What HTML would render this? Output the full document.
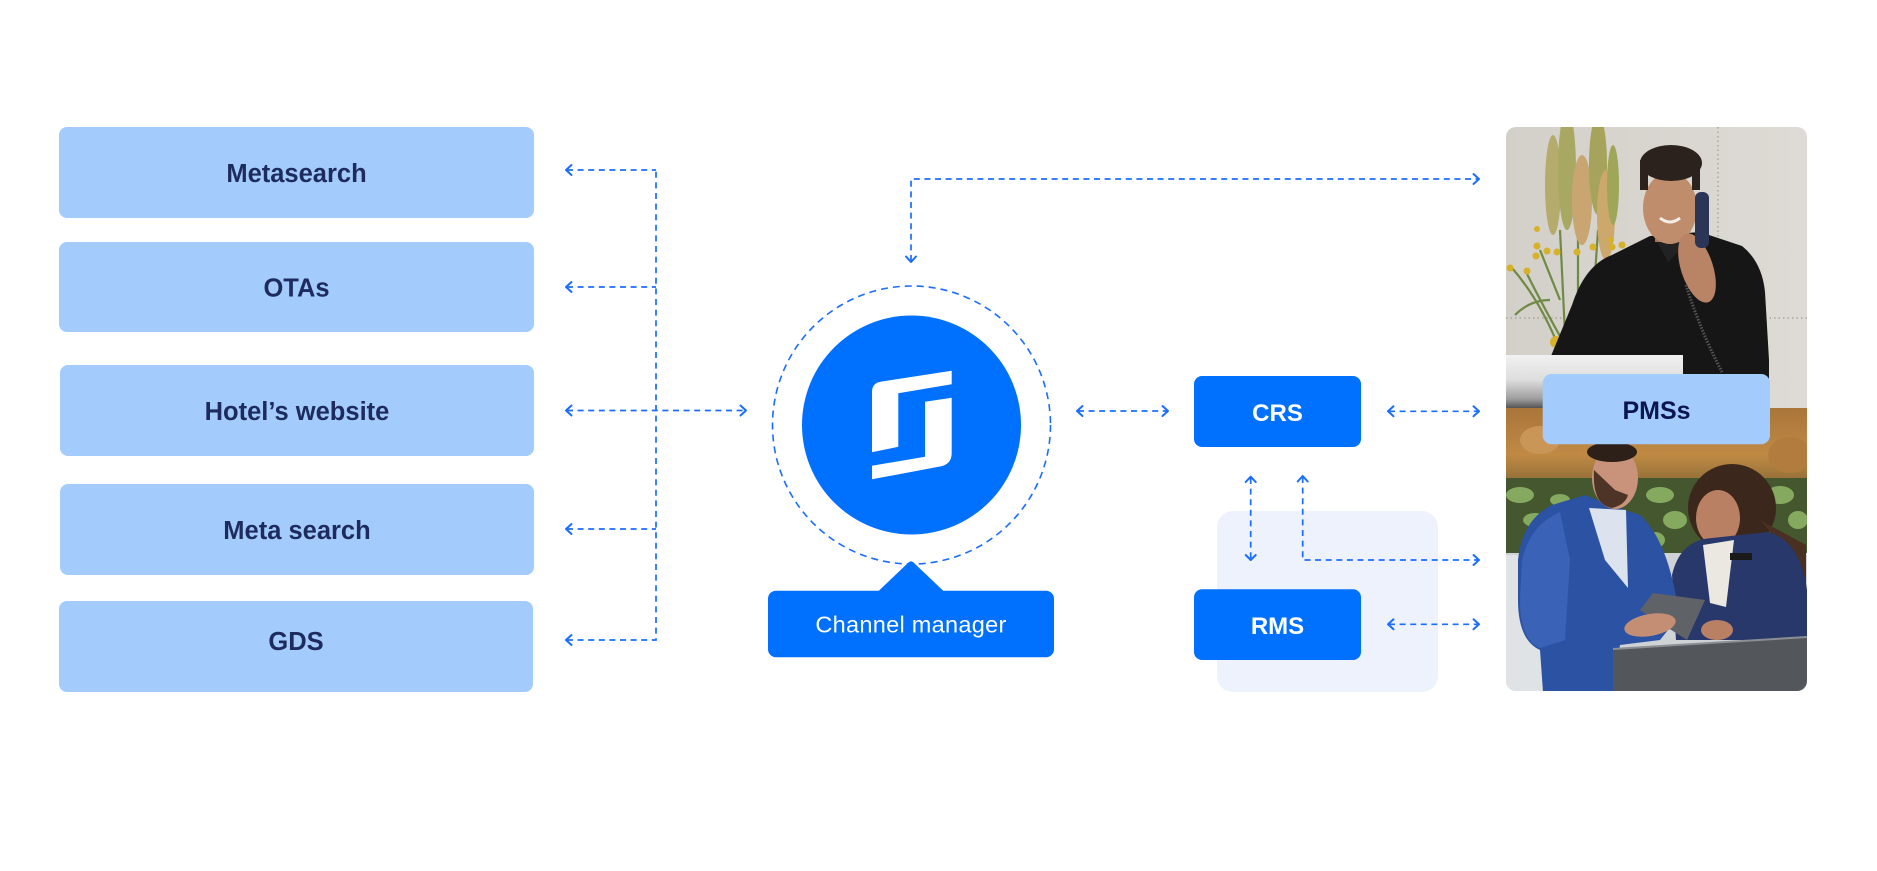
<!DOCTYPE html>
<html>
<head>
<meta charset="utf-8">
<style>
  html,body{margin:0;padding:0;background:#ffffff;}
  body{width:1877px;height:871px;overflow:hidden;}
  svg{display:block;}
  .lbl{font-family:"Liberation Sans",Arial,sans-serif;font-weight:700;font-size:25.5px;fill:#1e2b5e;text-anchor:middle;}
  .wl{font-family:"Liberation Sans",Arial,sans-serif;font-weight:700;font-size:24px;fill:#ffffff;text-anchor:middle;}
  .dl{fill:none;stroke:#1a6dff;stroke-width:1.7;stroke-dasharray:6 4.6;}
  .ah{fill:none;stroke:#1a6dff;stroke-width:2;stroke-linecap:round;stroke-linejoin:round;}
</style>
</head>
<body>
<svg width="1877" height="871" viewBox="0 0 1877 871" xmlns="http://www.w3.org/2000/svg">
  <defs>
    <clipPath id="photoClip">
      <rect x="1506" y="127" width="301" height="564" rx="10" ry="10"/>
    </clipPath>
    <linearGradient id="wallG" x1="0" y1="0" x2="1" y2="0">
      <stop offset="0" stop-color="#d3cfc9"/>
      <stop offset="1" stop-color="#dedbd6"/>
    </linearGradient>
    <linearGradient id="counterG" x1="0" y1="0" x2="0" y2="1">
      <stop offset="0" stop-color="#f1f1f1"/>
      <stop offset="0.45" stop-color="#dedede"/>
      <stop offset="0.8" stop-color="#9d9d9d"/>
      <stop offset="1" stop-color="#444444"/>
    </linearGradient>
    <linearGradient id="mossG" x1="0" y1="0" x2="0" y2="1">
      <stop offset="0" stop-color="#a9753a"/>
      <stop offset="0.6" stop-color="#c08a45"/>
      <stop offset="1" stop-color="#8a6a35"/>
    </linearGradient>
  </defs>

  <!-- Left boxes -->
  <rect x="59" y="127" width="475" height="91" rx="8" fill="#a3ccfd"/>
  <text class="lbl" x="296.5" y="182">Metasearch</text>
  <rect x="59" y="242" width="475" height="90" rx="8" fill="#a3ccfd"/>
  <text class="lbl" x="296.5" y="296.5">OTAs</text>
  <rect x="60" y="365" width="474" height="91" rx="8" fill="#a3ccfd"/>
  <text class="lbl" x="297" y="420">Hotel’s website</text>
  <rect x="60" y="484" width="474" height="91" rx="8" fill="#a3ccfd"/>
  <text class="lbl" x="297" y="539">Meta search</text>
  <rect x="59" y="601" width="474" height="91" rx="8" fill="#a3ccfd"/>
  <text class="lbl" x="296" y="650">GDS</text>

  <!-- Left connectors -->
  <path class="dl" d="M567 170 H656"/>
  <path class="dl" d="M567 287 H656"/>
  <path class="dl" d="M567 410.5 H745"/>
  <path class="dl" d="M567 529 H656"/>
  <path class="dl" d="M567 640 H656 V170"/>
  <path class="ah" d="M571.5 165 L566 170 L571.5 175"/>
  <path class="ah" d="M571.5 282 L566 287 L571.5 292"/>
  <path class="ah" d="M571.5 405.5 L566 410.5 L571.5 415.5"/>
  <path class="ah" d="M571.5 524 L566 529 L571.5 534"/>
  <path class="ah" d="M571.5 635 L566 640 L571.5 645"/>
  <path class="ah" d="M740.5 405.5 L746 410.5 L740.5 415.5"/>

  <!-- Top connector -->
  <path class="dl" d="M911 261 V179 H1478"/>
  <path class="ah" d="M906 256.5 L911 262 L916 256.5"/>
  <path class="ah" d="M1473.5 174 L1479 179 L1473.5 184"/>

  <!-- Circle -->
  <circle cx="911.5" cy="425" r="139" fill="none" stroke="#1a6dff" stroke-width="1.6" stroke-dasharray="7 5"/>
  <circle cx="911.5" cy="425" r="109.5" fill="#0070ff"/>
  <!-- Logo -->
  <path d="M872 392 Q872 383 881 381.6 L951.7 370.7 L951.7 384.3 L898.3 393.3 L898.3 446.8 L872 452.3 Z" fill="#ffffff"/>
  <path d="M925 401.7 L951.7 397.7 L951.7 453 Q951.7 464.5 940 466.5 L872 479.3 L872 465.7 L925 456.7 Z" fill="#ffffff"/>

  <!-- Channel manager -->
  <path d="M878 591.5 L908.5 562.5 Q911 560 913.5 562.5 L944 591.5 Z" fill="#0070ff"/>
  <rect x="768" y="590.7" width="286" height="66.5" rx="8" fill="#0070ff"/>
  <text x="911" y="632.5" font-family="'Liberation Sans',Arial,sans-serif" font-size="23.5" fill="#ffffff" text-anchor="middle" letter-spacing="0.3">Channel manager</text>

  <!-- Circle to CRS -->
  <path class="dl" d="M1078 411 H1167"/>
  <path class="ah" d="M1082.5 406 L1077 411 L1082.5 416"/>
  <path class="ah" d="M1162.5 406 L1168 411 L1162.5 416"/>

  <!-- Panel -->
  <rect x="1217" y="511" width="221" height="181" rx="16" fill="#edf2fd"/>

  <!-- CRS & RMS -->
  <rect x="1194" y="376" width="167" height="71" rx="8" fill="#0070ff"/>
  <text class="wl" x="1277.5" y="421">CRS</text>
  <rect x="1194" y="589.3" width="167" height="70.7" rx="8" fill="#0070ff"/>
  <text class="wl" x="1277.5" y="634">RMS</text>

  <!-- Vertical connectors -->
  <path class="dl" d="M1250.7 478 V559"/>
  <path class="ah" d="M1245.7 482 L1250.7 476.7 L1255.7 482"/>
  <path class="ah" d="M1245.7 555 L1250.7 560 L1255.7 555"/>
  <path class="dl" d="M1302.7 477 V560 H1478"/>
  <path class="ah" d="M1297.7 481.5 L1302.7 476 L1307.7 481.5"/>
  <path class="ah" d="M1473.5 555 L1479 560 L1473.5 565"/>

  <!-- CRS to PMS, RMS to PMS -->
  <path class="dl" d="M1389 411.3 H1478"/>
  <path class="ah" d="M1393.5 406.3 L1388 411.3 L1393.5 416.3"/>
  <path class="ah" d="M1473.5 406.3 L1479 411.3 L1473.5 416.3"/>
  <path class="dl" d="M1389 624.3 H1478"/>
  <path class="ah" d="M1393.5 619.3 L1388 624.3 L1393.5 629.3"/>
  <path class="ah" d="M1473.5 619.3 L1479 624.3 L1473.5 629.3"/>

  <!-- Photos -->
  <g clip-path="url(#photoClip)">
    <!-- top photo -->
    <rect x="1506" y="127" width="301" height="283" fill="url(#wallG)"/>
    <line x1="1718" y1="127" x2="1718" y2="238" stroke="#aaa59d" stroke-width="1.5" stroke-dasharray="1.5 3"/>
    <line x1="1506" y1="318" x2="1565" y2="318" stroke="#aaa59d" stroke-width="1.5" stroke-dasharray="1.5 3"/>
    <line x1="1765" y1="318" x2="1807" y2="318" stroke="#aaa59d" stroke-width="1.5" stroke-dasharray="1.5 3"/>
    <!-- plants -->
    <g stroke="#6f8a45" stroke-width="2.2" fill="none">
      <path d="M1560 230 L1566 355"/>
      <path d="M1578 230 L1578 350"/>
      <path d="M1598 230 L1590 350"/>
      <path d="M1610 240 L1600 345"/>
      <path d="M1512 268 Q1540 300 1560 350"/>
      <path d="M1526 272 Q1545 310 1565 345"/>
      <path d="M1540 250 L1560 300"/>
      <path d="M1515 315 Q1530 300 1550 300"/>
    </g>
    <ellipse cx="1553" cy="185" rx="8" ry="50" fill="#b5ab6c"/>
    <ellipse cx="1567" cy="170" rx="9" ry="60" fill="#a9a862"/>
    <ellipse cx="1582" cy="200" rx="10" ry="45" fill="#c9a671"/>
    <ellipse cx="1598" cy="165" rx="9" ry="50" fill="#a5a35c"/>
    <ellipse cx="1606" cy="215" rx="9" ry="45" fill="#cda86c"/>
    <ellipse cx="1613" cy="185" rx="6" ry="40" fill="#9fa65a"/>
    <g fill="#d6b12a">
      <circle cx="1510" cy="268" r="3.5"/><circle cx="1527" cy="271" r="3.5"/>
      <circle cx="1536" cy="256" r="3.5"/><circle cx="1547" cy="251" r="3.5"/>
      <circle cx="1557" cy="252" r="3.5"/><circle cx="1537" cy="246" r="3.5"/>
      <circle cx="1537" cy="229" r="3"/><circle cx="1577" cy="252" r="3.5"/>
      <circle cx="1593" cy="247" r="3.5"/><circle cx="1612" cy="247" r="3.5"/>
      <circle cx="1622" cy="245" r="3.5"/><circle cx="1611" cy="240" r="3"/>
      <circle cx="1556" cy="342" r="6"/><circle cx="1606" cy="348" r="5"/>
    </g>
    <!-- man black shirt -->
    <path d="M1551 356 L1572 305 Q1585 265 1612 255 L1650 236 L1700 232 L1742 246 Q1762 262 1765 292 L1769 360 L1769 410 L1683 410 L1683 356 Z" fill="#161616"/>
    <path d="M1655 237 L1668 262 L1690 240 Z" fill="#222222"/>
    <rect x="1655" y="220" width="30" height="22" fill="#a87456"/>
    <ellipse cx="1670" cy="208" rx="27" ry="36" fill="#bf8d6c"/>
    <ellipse cx="1671" cy="163" rx="31" ry="18" fill="#2b221d"/>
    <rect x="1640" y="160" width="8" height="30" fill="#2b221d"/>
    <rect x="1692" y="160" width="8" height="30" fill="#2b221d"/>
    <path d="M1660 218 Q1670 226 1680 218" stroke="#f4eee8" stroke-width="3" fill="none"/>
    <ellipse cx="1697" cy="268" rx="16" ry="36" fill="#b98466" transform="rotate(-18 1697 268)"/>
    <rect x="1695" y="192" width="14" height="56" rx="6" fill="#2b3656"/>
    <path d="M1686 285 Q1700 330 1722 372" stroke="#555" stroke-width="3" stroke-dasharray="1.5 1.5" fill="none"/>
    <!-- counter -->
    <rect x="1506" y="355" width="177" height="55" fill="url(#counterG)"/>

    <!-- bottom photo -->
    <rect x="1506" y="408" width="301" height="284" fill="#cfd3d6"/>
    <rect x="1506" y="408" width="301" height="78" fill="url(#mossG)"/>
    <ellipse cx="1540" cy="440" rx="20" ry="14" fill="#c99658"/>
    <ellipse cx="1700" cy="430" rx="30" ry="10" fill="#c69351"/>
    <ellipse cx="1790" cy="455" rx="22" ry="18" fill="#b17c3e"/>
    <rect x="1506" y="478" width="301" height="75" fill="#44572f"/>
    <g fill="#84a95f">
      <ellipse cx="1520" cy="495" rx="14" ry="8"/>
      <ellipse cx="1535" cy="520" rx="12" ry="7"/>
      <ellipse cx="1660" cy="495" rx="14" ry="8"/>
      <ellipse cx="1675" cy="520" rx="12" ry="9"/>
      <ellipse cx="1655" cy="540" rx="10" ry="8"/>
      <ellipse cx="1780" cy="495" rx="14" ry="9"/>
      <ellipse cx="1798" cy="520" rx="10" ry="9"/>
      <ellipse cx="1560" cy="500" rx="10" ry="6"/>
    </g>
    <rect x="1506" y="555" width="40" height="137" fill="#e0e3e5"/>
    <!-- woman -->
    <ellipse cx="1732" cy="508" rx="44" ry="44" fill="#3b271c"/>
    <path d="M1760 520 Q1795 560 1806 590 L1806 545 Z" fill="#4a3020"/>
    <ellipse cx="1718" cy="518" rx="22" ry="28" fill="#b98064"/>
    <path d="M1672 575 Q1680 540 1712 538 L1768 532 Q1800 540 1807 590 L1807 640 L1676 640 Z" fill="#28386b"/>
    <path d="M1703 545 L1734 540 L1726 607 L1710 603 Z" fill="#ebe8e2"/>
    <rect x="1730" y="553" width="22" height="7" fill="#1a1a1a"/>
    <!-- man -->
    <path d="M1518 560 Q1522 520 1552 505 L1585 495 L1610 505 L1640 515 Q1662 535 1673 582 L1680 615 L1660 640 L1620 645 L1613 692 L1543 692 L1540 650 Q1518 640 1518 600 Z" fill="#2c52a3"/>
    <path d="M1522 560 Q1530 525 1560 512 L1570 560 L1565 640 L1540 648 Q1520 640 1520 600 Z" fill="#3a62b6"/>
    <path d="M1589 508 L1626 510 L1628 588 L1605 560 Z" fill="#dde3ee"/>
    <ellipse cx="1615" cy="478" rx="23" ry="31" fill="#c8937a"/>
    <ellipse cx="1612" cy="452" rx="25" ry="10" fill="#2d2018"/>
    <path d="M1594 470 Q1592 505 1612 508 Q1625 505 1628 495 L1615 490 Z" fill="#4d3426"/>
    <!-- tablet & hands -->
    <path d="M1640 610 L1653 593 L1705 600 L1687 640 Z" fill="#5f6267"/>
    <ellipse cx="1650" cy="625" rx="26" ry="11" fill="#c48e74" transform="rotate(-10 1650 625)"/>
    <ellipse cx="1717" cy="630" rx="16" ry="10" fill="#b98064"/>
    <!-- monitor -->
    <path d="M1613 649 L1807 637 L1807 692 L1613 692 Z" fill="#53575c"/>
    <path d="M1613 649 L1807 637" stroke="#8b8f94" stroke-width="2"/>
  </g>

  <!-- PMSs -->
  <rect x="1542.7" y="374" width="227.3" height="70.3" rx="9" fill="#a3ccfd"/>
  <text x="1656.5" y="419" font-family="'Liberation Sans',Arial,sans-serif" font-weight="700" font-size="25" fill="#0b1650" text-anchor="middle">PMSs</text>
</svg>
</body>
</html>
